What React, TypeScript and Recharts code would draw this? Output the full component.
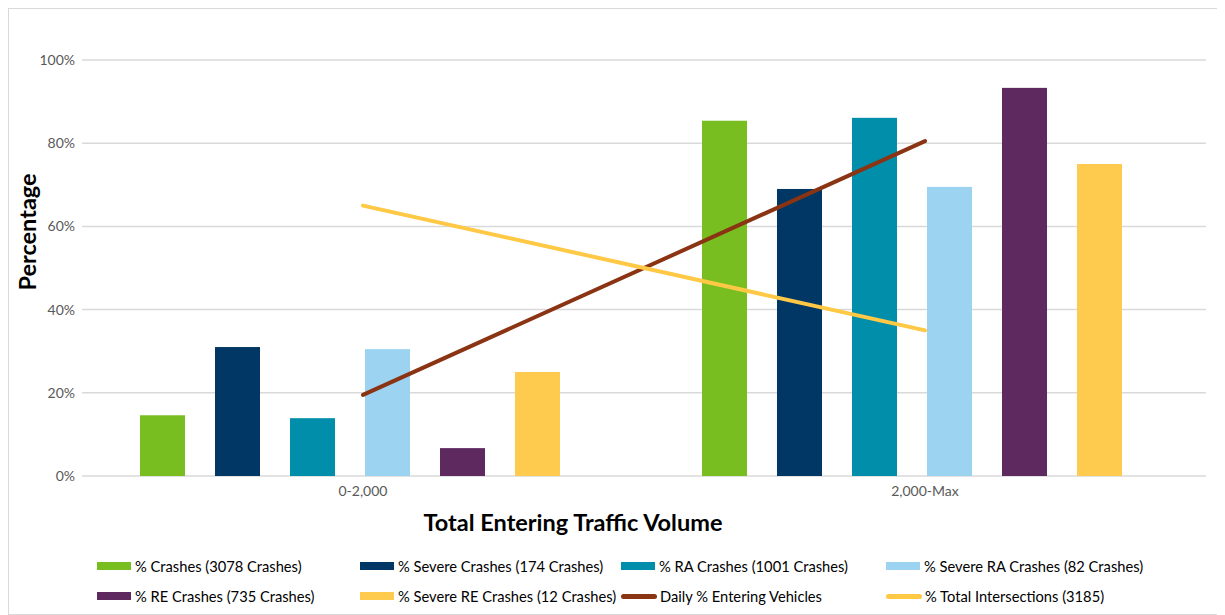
import React from 'react';
import { ComposedChart, Bar, Line, XAxis, YAxis, CartesianGrid, Label } from 'recharts';

const categories = ['0-2,000', '2,000-Max'];
const crashes = [14.6, 85.4];
const severeCrashes = [31.0, 69.0];
const raCrashes = [13.9, 86.1];
const severeRaCrashes = [30.5, 69.5];
const reCrashes = [6.7, 93.3];
const severeReCrashes = [25.0, 75.0];
const dailyEntering = [19.5, 80.5];
const totalIntersections = [65.0, 35.0];
const yTicks = [0, 20, 40, 60, 80, 100];

const barSeries = [
  { key: 'crashes', name: '% Crashes (3078 Crashes)', values: crashes, color: '#78BE20' },
  { key: 'severe', name: '% Severe Crashes (174 Crashes)', values: severeCrashes, color: '#003764' },
  { key: 'ra', name: '% RA Crashes (1001 Crashes)', values: raCrashes, color: '#008EAA' },
  { key: 'severeRa', name: '% Severe RA Crashes (82 Crashes)', values: severeRaCrashes, color: '#9BD3F0' },
  { key: 're', name: '% RE Crashes (735 Crashes)', values: reCrashes, color: '#5D295F' },
  { key: 'severeRe', name: '% Severe RE Crashes (12 Crashes)', values: severeReCrashes, color: '#FFCB4F' },
];
const lineSeries = [
  { key: 'daily', name: 'Daily % Entering Vehicles', values: dailyEntering, color: '#8A3414' },
  { key: 'total', name: '% Total Intersections (3185)', values: totalIntersections, color: '#FFC845' },
];

const data = categories.map((cat, i) => {
  const row: any = { cat };
  barSeries.forEach((s) => (row[s.key] = s.values[i]));
  lineSeries.forEach((s) => (row[s.key] = s.values[i]));
  return row;
});

const FONT = 'Lato, "Open Sans", sans-serif';

const ShiftedBar = (props: any) => {
  const { x, y, width, height, fill } = props;
  if (height == null || width == null) return null;
  return <rect x={x - 13} y={y} width={width} height={height} fill={fill} />;
};

const legendItems = [
  { ...barSeries[0], type: 'bar', col: 0, row: 0 },
  { ...barSeries[1], type: 'bar', col: 1, row: 0 },
  { ...barSeries[2], type: 'bar', col: 2, row: 0 },
  { ...barSeries[3], type: 'bar', col: 3, row: 0 },
  { ...barSeries[4], type: 'bar', col: 0, row: 1 },
  { ...barSeries[5], type: 'bar', col: 1, row: 1 },
  { ...lineSeries[0], type: 'line', col: 2, row: 1 },
  { ...lineSeries[1], type: 'line', col: 3, row: 1 },
];
const colX = [88, 351, 612, 877];
const rowY = [547, 577];

export default function App() {
  return (
    <div style={{ position: 'relative', width: 1216, height: 607, border: '1px solid #d9d9d9', borderRight: '2px solid #e6e6e6', boxSizing: 'border-box', background: '#fff', fontFamily: FONT }}>
      <ComposedChart
        width={1213}
        height={606}
        data={data}
        margin={{ top: 51, right: 16, left: 13, bottom: 109 }}
        barSize={45}
        barGap={30}
      >
        <CartesianGrid vertical={false} stroke="#d9d9d9" strokeWidth={1.5} />
        <XAxis
          dataKey="cat"
          axisLine={false}
          tickLine={false}
          height={30}
          tickMargin={4}
          tick={{ fill: '#595959', fontSize: 14, fontFamily: FONT }}
        >
          <Label
            content={(p: any) => {
              const vb = p.viewBox;
              return (
                <text x={vb.x + vb.width / 2 - 71} y={vb.y + 46} textAnchor="middle" dominantBaseline="central" fontSize={23.5} fontWeight="bold" fill="#000" fontFamily={FONT}>
                  Total Entering Traffic Volume
                </text>
              );
            }}
          />
        </XAxis>
        <YAxis
          domain={[0, 100]}
          ticks={yTicks}
          width={60}
          axisLine={false}
          tickLine={false}
          tickMargin={1}
          tickFormatter={(v: number) => `${v}%`}
          tick={{ fill: '#595959', fontSize: 14, fontFamily: FONT }}
        >
          <Label
            content={(p: any) => {
              const vb = p.viewBox;
              const cx = vb.x + 5;
              const cy = vb.y + vb.height / 2 - 36;
              return (
                <text x={cx} y={cy} transform={`rotate(-90 ${cx} ${cy})`} textAnchor="middle" dominantBaseline="central" fontSize={23.5} fontWeight="bold" fill="#000" fontFamily={FONT}>
                  Percentage
                </text>
              );
            }}
          />
        </YAxis>
        {barSeries.map((s) => (
          <Bar key={s.key} dataKey={s.key} name={s.name} fill={s.color} isAnimationActive={false} shape={<ShiftedBar />} />
        ))}
        {lineSeries.map((s) => (
          <Line key={s.key} dataKey={s.key} name={s.name} stroke={s.color} strokeWidth={4} strokeLinecap="round" dot={false} activeDot={false} isAnimationActive={false} />
        ))}
      </ComposedChart>
      {legendItems.map((it) => (
        <div
          key={it.key}
          style={{ position: 'absolute', left: colX[it.col], top: rowY[it.row], height: 20, display: 'flex', alignItems: 'center', fontSize: 14.7, color: '#000', whiteSpace: 'nowrap', fontFamily: FONT }}
        >
          {it.type === 'bar' ? (
            <span style={{ display: 'inline-block', width: 34, height: 8, background: it.color, marginRight: 4 }} />
          ) : (
            <span style={{ display: 'inline-block', width: 36, height: 5, borderRadius: 3, background: it.color, marginRight: 3 }} />
          )}
          {it.name}
        </div>
      ))}
    </div>
  );
}
